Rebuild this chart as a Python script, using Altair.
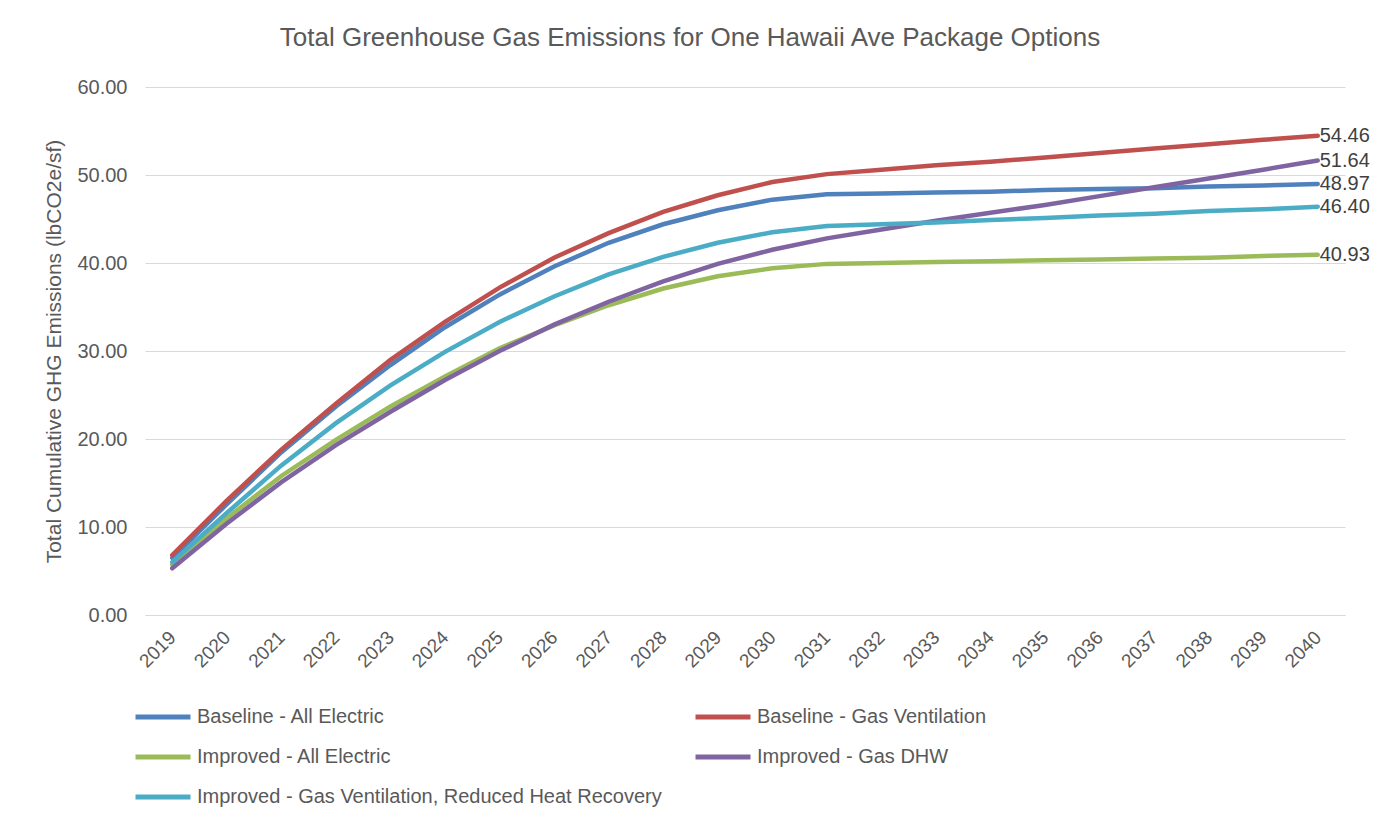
import altair as alt
import pandas as pd

years = [str(y) for y in range(2019, 2041)]

series_names = [
    "Baseline - All Electric",
    "Baseline - Gas Ventilation",
    "Improved - All Electric",
    "Improved - Gas DHW",
    "Improved - Gas Ventilation, Reduced Heat Recovery",
]
series_colors = ["#4F81BD", "#C0504D", "#9BBB59", "#8064A2", "#4BACC6"]

baseline_all_electric = [6.5, 12.6, 18.5, 23.7, 28.4, 32.7, 36.4, 39.6, 42.3, 44.4, 46.0,
                         47.2, 47.8, 47.9, 48.0, 48.1, 48.3, 48.4, 48.5, 48.7, 48.8, 48.97]
baseline_gas_vent = [6.8, 13.0, 18.8, 24.0, 29.0, 33.3, 37.2, 40.6, 43.4, 45.8, 47.7,
                     49.2, 50.1, 50.6, 51.1, 51.5, 52.0, 52.5, 53.0, 53.5, 54.0, 54.46]
improved_all_electric = [5.7, 11.0, 15.8, 19.9, 23.7, 27.1, 30.3, 32.9, 35.2, 37.1, 38.5,
                         39.4, 39.9, 40.0, 40.1, 40.2, 40.3, 40.4, 40.5, 40.6, 40.8, 40.93]
improved_gas_dhw = [5.3, 10.4, 15.1, 19.3, 23.1, 26.7, 30.0, 33.0, 35.6, 37.9, 39.9,
                    41.5, 42.8, 43.8, 44.8, 45.7, 46.6, 47.6, 48.6, 49.6, 50.6, 51.64]
improved_gas_vent_rhr = [6.0, 11.6, 17.0, 21.8, 26.1, 29.9, 33.3, 36.2, 38.7, 40.7, 42.3,
                         43.5, 44.2, 44.4, 44.6, 44.9, 45.1, 45.4, 45.6, 45.9, 46.1, 46.40]

all_values = [baseline_all_electric, baseline_gas_vent, improved_all_electric,
              improved_gas_dhw, improved_gas_vent_rhr]

rows = []
for name, vals in zip(series_names, all_values):
    for yr, v in zip(years, vals):
        rows.append({"Year": yr, "Series": name, "Value": v})
df = pd.DataFrame(rows)
end_df = df[df["Year"] == years[-1]].copy()

FONT = "Liberation Sans"
GRAY = "#595959"

x_enc = alt.X(
    "Year:O",
    sort=years,
    scale=alt.Scale(type="point", padding=0.5),
    axis=alt.Axis(
        title=None, labelAngle=-45, labelAlign="right", labelBaseline="middle",
        labelFontSize=19, labelColor=GRAY, labelFont=FONT, labelPadding=19,
        ticks=False, domainColor="#D9D9D9", domainWidth=1.2, grid=False,
        labelOverlap=False,
    ),
)
y_enc = alt.Y(
    "Value:Q",
    scale=alt.Scale(domain=[0, 60], nice=False),
    axis=alt.Axis(
        title="Total Cumulative GHG Emissions  (lbCO2e/sf)",
        values=[0, 10, 20, 30, 40, 50, 60], format=".2f",
        labelFontSize=20, labelColor=GRAY, labelFont=FONT, labelPadding=18,
        titleFontSize=21, titleColor=GRAY, titleFont=FONT, titleFontWeight="normal",
        titlePadding=12, ticks=False, domain=False,
        gridColor="#D9D9D9", gridWidth=1.2,
    ),
)

color_enc = alt.Color(
    "Series:N",
    sort=series_names,
    scale=alt.Scale(domain=series_names, range=series_colors),
    legend=alt.Legend(
        title=None, orient="none", legendX=-12, legendY=600, columns=2,
        direction="horizontal",
        symbolType="stroke", symbolStrokeWidth=5, symbolSize=3025,
        labelFontSize=20, labelColor=GRAY, labelFont=FONT, labelOffset=4,
        rowPadding=0, columnPadding=23, labelLimit=800,
    ),
)

lines = alt.Chart(df).mark_line(strokeWidth=4.5, strokeCap="round").encode(
    x=x_enc, y=y_enc, color=color_enc, detail="Series:N"
)

labels = alt.Chart(end_df).mark_text(
    align="left", baseline="middle", dx=2, fontSize=20, font=FONT, color="#404040"
).encode(
    x=alt.X("Year:O", sort=years, scale=alt.Scale(type="point", padding=0.5)),
    y=alt.Y("Value:Q"),
    text=alt.Text("Value:Q", format=".2f"),
)

chart = alt.layer(lines, labels).properties(
    width=1200,
    height=528,
    title=alt.TitleParams(
        "Total Greenhouse Gas Emissions for One Hawaii Ave Package Options",
        fontSize=26, font=FONT, color=GRAY, fontWeight="normal",
        anchor="middle", dx=-55, offset=26,
    ),
    autosize=alt.AutoSizeParams(type="none"),
    padding={"left": 137, "top": 79, "right": 27, "bottom": 202},
).configure(
    background="white",
    view=alt.ViewConfig(stroke="transparent", strokeWidth=0),
)

chart.save("out.html", embed_options={"renderer": "svg", "actions": False})
